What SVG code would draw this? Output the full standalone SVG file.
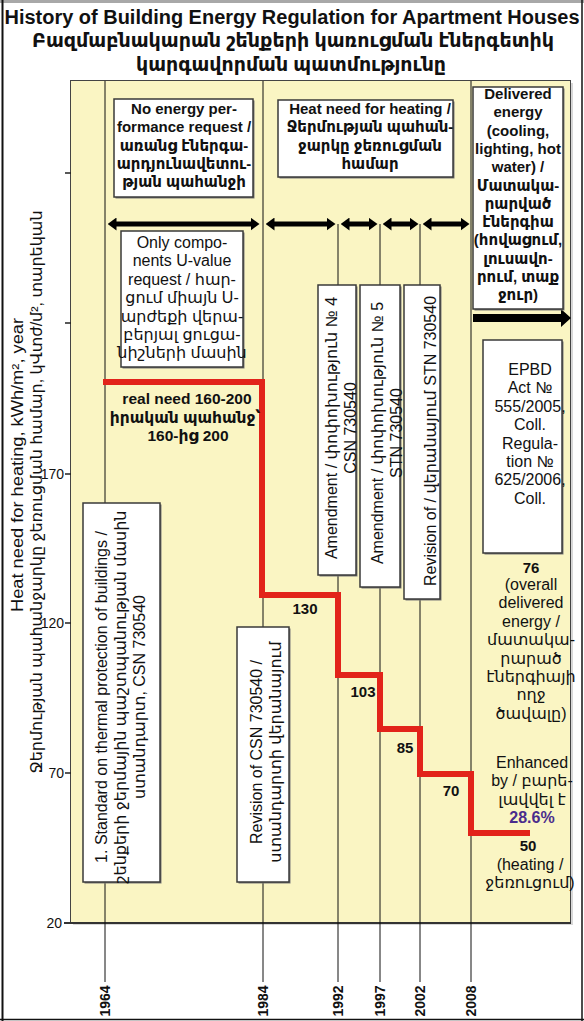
<svg xmlns="http://www.w3.org/2000/svg" width="584" height="1021" viewBox="0 0 584 1021">
<defs>
<style>
text{font-family:"Liberation Sans","DejaVu Sans","Noto Sans",sans-serif;fill:#111}
.b{font-weight:bold}
.f14{font-size:14px}
.f15{font-size:15px}
.f16{font-size:16px}
.m{text-anchor:middle}
.e{text-anchor:end}
.box{fill:#fff;stroke:#3a3a3a;stroke-width:1.5}
.sh{fill:#7a7a7a}
.yl{stroke:#111;stroke-width:1;fill:none}
.tick{stroke:#222;stroke-width:1.5}
.red{fill:none;stroke:#E2231A;stroke-width:6;stroke-linejoin:miter}
.dbl{stroke:#000;stroke-width:5}
</style>
<marker id="ah" markerUnits="userSpaceOnUse" viewBox="0 0 9 13" refX="0.5" refY="6.5" markerWidth="9" markerHeight="13" orient="auto-start-reverse"><path d="M0,0 L9,6.5 L0,13 z" fill="#000"/></marker>
</defs>
<rect x="0" y="0" width="584" height="1021" fill="#fff"/>
<!-- frame -->
<g id="frame">
<line x1="0" y1="1.5" x2="584" y2="1.5" stroke="#a8a8a8" stroke-width="3"/>
<line x1="2.5" y1="0" x2="2.5" y2="1021" stroke="#111" stroke-width="2"/>
<line x1="582" y1="0" x2="582" y2="1021" stroke="#111" stroke-width="1.5"/>
<line x1="0" y1="1019.5" x2="584" y2="1019.5" stroke="#111" stroke-width="1.5"/>
</g>
<g id="title">
<text class="b m" style="font-size:20px" x="292" y="24" textLength="575" lengthAdjust="spacingAndGlyphs">History of Building Energy Regulation for Apartment Houses</text>
<text class="b m" style="font-size:20px" x="293" y="47" textLength="522" lengthAdjust="spacingAndGlyphs">Բազմաբնակարան շենքերի կառուցման էներգետիկ</text>
<text class="b m" style="font-size:20px" x="291" y="71" textLength="310" lengthAdjust="spacingAndGlyphs">կարգավորման պատմությունը</text>
</g>
<!-- chart area -->
<g id="chart-area">
<rect x="73" y="83" width="500" height="842" fill="#d8d8d8"/>
<rect x="70.5" y="80.5" width="500" height="842.5" fill="#FAF5C3" stroke="#444" stroke-width="1"/>
<line x1="64" y1="923" x2="571" y2="923" stroke="#333" stroke-width="2"/>
<line class="tick" x1="65" y1="173" x2="71" y2="173"/>
<line class="tick" x1="65" y1="323" x2="71" y2="323"/>
<line class="tick" x1="65" y1="474" x2="71" y2="474"/>
<line class="tick" x1="65" y1="623" x2="71" y2="623"/>
<line class="tick" x1="65" y1="773" x2="71" y2="773"/>
<text class="f14 e" x="64" y="479">170</text>
<text class="f14 e" x="64" y="628">120</text>
<text class="f14 e" x="64" y="778">70</text>
<text class="f14 e" x="62" y="928">20</text>
</g>
<g id="y-axis-label">
<text class="m" style="font-size:16px" transform="translate(23,465) rotate(-90)" textLength="294" lengthAdjust="spacingAndGlyphs">Heat need for heating, kWh/m², year</text>
<text class="m" style="font-size:16px" transform="translate(42,492) rotate(-90)" textLength="563" lengthAdjust="spacingAndGlyphs">Ջերմության պահանջարկը ջեռուցման համար, կՎտժ/մ², տարեկան</text>
</g>
<!-- connectors -->
<g id="connectors">
<line class="yl" x1="105" y1="81" x2="105" y2="982"/>
<line class="yl" x1="263" y1="81" x2="263" y2="982"/>
<line class="yl" x1="338" y1="224" x2="338" y2="982"/>
<line class="yl" x1="380" y1="224" x2="380" y2="982"/>
<line class="yl" x1="420" y1="224" x2="420" y2="982"/>
<line class="yl" x1="471" y1="81" x2="471" y2="982"/>
<line class="dbl" x1="116" y1="224" x2="251" y2="224" marker-start="url(#ah)" marker-end="url(#ah)"/>
<line class="dbl" x1="274" y1="224" x2="327" y2="224" marker-start="url(#ah)" marker-end="url(#ah)"/>
<line class="dbl" x1="349" y1="224" x2="369" y2="224" marker-start="url(#ah)" marker-end="url(#ah)"/>
<line class="dbl" x1="391" y1="224" x2="410" y2="224" marker-start="url(#ah)" marker-end="url(#ah)"/>
<line class="dbl" x1="431" y1="224" x2="461" y2="224" marker-start="url(#ah)" marker-end="url(#ah)"/>
<path d="M473,314 L561,314 L561,309 L571,318 L561,327 L561,322 L473,322 z" fill="#000"/>
<polyline class="red" points="103,382 262,382 262,595 338,595 338,675 380,675 380,729 420,729 420,774 471,774 471,833 530,833"/>
</g>
<!-- values -->
<g id="values">
<text class="b m" style="font-size:15.5px" x="187" y="404">real need 160-200</text>
<text class="b m" style="font-size:15.5px" x="185" y="423">իրական պահանջ՝</text>
<text class="b m" style="font-size:15.5px" x="188" y="441">160-ից 200</text>
<text class="b m f15" x="305" y="614">130</text>
<text class="b m f15" x="363" y="697">103</text>
<text class="b m f15" x="405" y="753">85</text>
<text class="b m f15" x="451" y="796">70</text>
<text class="b m f15" x="531" y="573">76</text>
<text class="m f16" x="531" y="590"><tspan x="531">(overall</tspan><tspan x="531" dy="18.4">delivered</tspan><tspan x="531" dy="18.4">energy /</tspan><tspan x="531" dy="18.4">մատակա-</tspan><tspan x="531" dy="18.4">րարած</tspan><tspan x="531" dy="18.4">էներգիայի</tspan><tspan x="531" dy="18.4">ողջ</tspan><tspan x="531" dy="18.4">ծավալը)</tspan></text>
<text class="m f16" x="532" y="768"><tspan x="532">Enhanced</tspan><tspan x="532" dy="18.4">by / բարե-</tspan><tspan x="532" dy="18.4">լավվել է</tspan><tspan x="532" dy="18.4" class="b" style="fill:#4A2C8C">28.6%</tspan></text>
<text class="b m f15" x="528" y="851">50</text>
<text class="m f16" x="530" y="870"><tspan x="530">(heating /</tspan><tspan x="530" dy="18.4">ջեռուցում)</tspan></text>
</g>
<!-- nodes -->
<g id="no-energy">
<rect class="sh" x="115.5" y="100.5" width="139" height="98"/>
<rect class="box" x="114" y="99" width="139" height="98"/>
<text class="b m f15" x="184" y="114"><tspan x="184">No energy per-</tspan><tspan x="184" dy="18.3">formance request /</tspan><tspan x="184" dy="18.3">առանց էներգա-</tspan><tspan x="184" dy="18.3">արդյունավետու-</tspan><tspan x="184" dy="18.3">թյան պահանջի</tspan></text>
</g>
<g id="heat-need">
<rect class="sh" x="279.5" y="101.5" width="175" height="77"/>
<rect class="box" x="278" y="100" width="175" height="77"/>
<text class="b m f15" x="370" y="114"><tspan x="370">Heat need for heating /</tspan><tspan x="370" dy="18.3">Ջերմության պահան-</tspan><tspan x="370" dy="18.3">ջարկը ջեռուցման</tspan><tspan x="370" dy="18.3">համար</tspan></text>
</g>
<g id="delivered">
<rect class="sh" x="474.5" y="88.5" width="90" height="222"/>
<rect class="box" x="473" y="87" width="90" height="222"/>
<text class="b m f15" x="518" y="99"><tspan x="518">Delivered</tspan><tspan x="518" dy="18.3">energy</tspan><tspan x="518" dy="18.3">(cooling,</tspan><tspan x="518" dy="18.3">lighting, hot</tspan><tspan x="518" dy="18.3">water) /</tspan><tspan x="518" dy="18.3">Մատակա-</tspan><tspan x="518" dy="18.3">րարված</tspan><tspan x="518" dy="18.3">էներգիա</tspan><tspan x="518" dy="18.3">(հովացում,</tspan><tspan x="518" dy="18.3">լուսավո-</tspan><tspan x="518" dy="18.3">րում, տաք</tspan><tspan x="518" dy="18.3">ջուր)</tspan></text>
</g>
<g id="only-u">
<rect class="sh" x="122.5" y="232.5" width="122" height="136"/>
<rect class="box" x="121" y="231" width="122" height="136"/>
<text class="m f16" x="182" y="248"><tspan x="182">Only compo-</tspan><tspan x="182" dy="18.4">nents U-value</tspan><tspan x="182" dy="18.4">request / հար-</tspan><tspan x="182" dy="18.4">ցում միայն U-</tspan><tspan x="182" dy="18.4">արժեքի վերա-</tspan><tspan x="182" dy="18.4">բերյալ ցուցա-</tspan><tspan x="182" dy="18.4">նիշների մասին</tspan></text>
</g>
<g id="epbd">
<rect class="sh" x="484.5" y="341.5" width="79" height="213"/>
<rect class="box" x="483" y="340" width="79" height="213"/>
<text class="m f16" x="530" y="375"><tspan x="530">EPBD</tspan><tspan x="530" dy="18.4">Act №</tspan><tspan x="530" dy="18.4">555/2005,</tspan><tspan x="530" dy="18.4">Coll.</tspan><tspan x="530" dy="18.4">Regula-</tspan><tspan x="530" dy="18.4">tion №</tspan><tspan x="530" dy="18.4">625/2006,</tspan><tspan x="530" dy="18.4">Coll.</tspan></text>
</g>
<g id="std-1964">
<rect class="sh" x="84.5" y="504.5" width="77" height="379"/>
<rect class="box" x="83" y="503" width="77" height="379"/>
<text class="m f16" transform="translate(107,697) rotate(-90)"><tspan x="0">1. Standard on thermal protection of buildings /</tspan><tspan x="0" dy="19">շենքերի ջերմային պաշտպանության մասին</tspan><tspan x="0" dy="19">ստանդարտ, CSN 730540</tspan></text>
</g>
<g id="rev-1984">
<rect class="sh" x="238.5" y="628.5" width="52" height="255"/>
<rect class="box" x="237" y="627" width="52" height="255"/>
<text class="m f16" transform="translate(262,752) rotate(-90)"><tspan x="0">Revision of CSN 730540 /</tspan><tspan x="0" dy="19">ստանդարտի վերանայում</tspan></text>
</g>
<g id="amd-1992">
<rect class="sh" x="319.5" y="286.5" width="38" height="290"/>
<rect class="box" x="318" y="285" width="38" height="290"/>
<text class="m f16" transform="translate(337,428) rotate(-90)"><tspan x="0">Amendment / փոփոխություն  № 4</tspan><tspan x="0" dy="18.5">CSN 730540</tspan></text>
</g>
<g id="amd-1997">
<rect class="sh" x="361.5" y="286.5" width="40" height="302"/>
<rect class="box" x="360" y="285" width="40" height="302"/>
<text class="m f16" transform="translate(383,433) rotate(-90)"><tspan x="0">Amendment / փոփոխություն  № 5</tspan><tspan x="0" dy="18.5">STN 730540</tspan></text>
</g>
<g id="rev-2002">
<rect class="sh" x="405.5" y="286.5" width="36" height="314"/>
<rect class="box" x="404" y="285" width="36" height="314"/>
<text class="m f16" transform="translate(436,441) rotate(-90)">Revision of / վերանայում STN 730540</text>
</g>
<g id="years">
<text class="b m f14" transform="translate(110,1001) rotate(-90)">1964</text>
<text class="b m f14" transform="translate(268,1001) rotate(-90)">1984</text>
<text class="b m f14" transform="translate(343,1001) rotate(-90)">1992</text>
<text class="b m f14" transform="translate(385,1001) rotate(-90)">1997</text>
<text class="b m f14" transform="translate(425,1001) rotate(-90)">2002</text>
<text class="b m f14" transform="translate(476,1001) rotate(-90)">2008</text>
</g>
</svg>
